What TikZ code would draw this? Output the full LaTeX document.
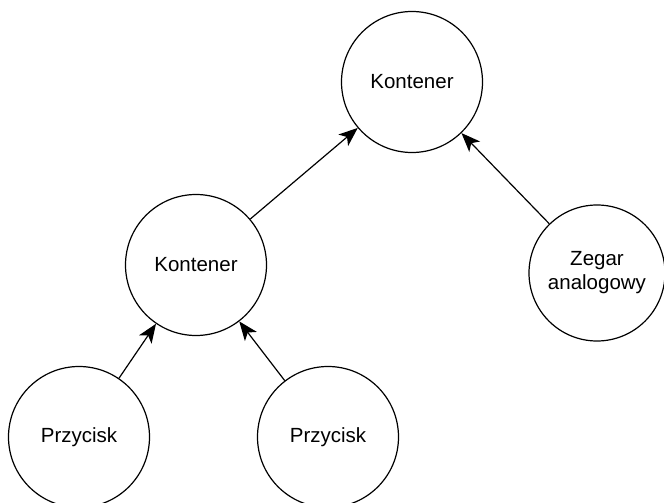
\documentclass[tikz,border=0pt]{standalone}
\usepackage{fontspec}
\setmainfont{Liberation Sans}
\usetikzlibrary{arrows.meta}

\begin{document}
\begin{tikzpicture}[x=1pt, y=-1pt,
    elem/.style={draw, circle, line width=1.2pt, minimum size=141pt, inner sep=0pt,
      align=center, font=\fontsize{20.5}{24}\selectfont},
    link/.style={line width=1.2pt, -{Stealth[length=19pt, width=15pt, inset=5pt]}}
  ]
    \useasboundingbox (0,0) rectangle (664,503);
    % tree of containers
    \node[elem] (root) at (412,82) {Kontener};
    \node[elem] (inner) at (196,265) {Kontener};
    \node[elem, minimum size=136pt] (clock) at (597,273) {Zegar\\analogowy};
    \node[elem] (btnA) at (79,437) {Przycisk};
    \node[elem] (btnB) at (328,437) {Przycisk};

    \draw[link] (inner) -- (root);
    \draw[link] (clock) -- (root);
    \draw[link] (btnA) -- (inner);
    \draw[link] (btnB) -- (inner);
  \end{tikzpicture}
\end{document}
